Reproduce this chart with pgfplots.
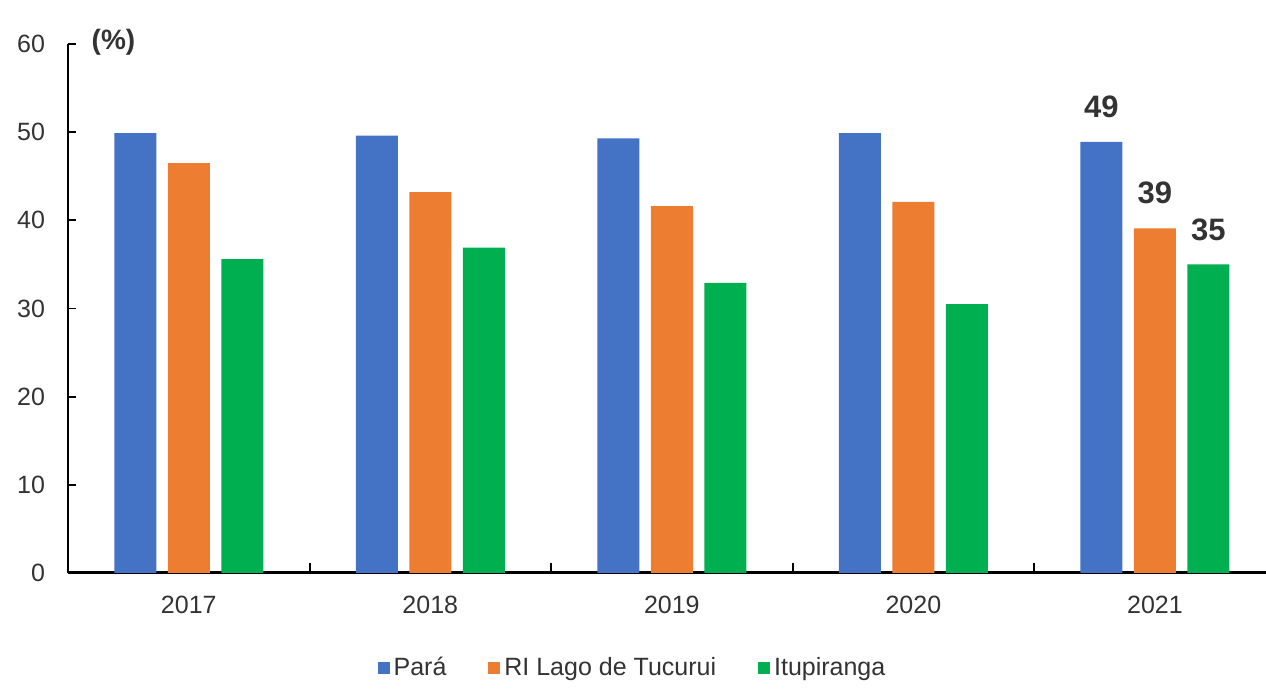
\documentclass[border=0pt]{standalone}
\usepackage{pgfplots}
\pgfplotsset{compat=1.18}
\usepackage{fontspec}
\setmainfont{Liberation Sans}
\definecolor{cblue}{HTML}{4472C4}
\definecolor{corange}{HTML}{ED7D31}
\definecolor{cgreen}{HTML}{00B050}
\definecolor{txt}{HTML}{333333}
\begin{document}
\begin{tikzpicture}
\useasboundingbox (0,0) rectangle (633pt,347.5pt);
\begin{axis}[
  at={(34pt,61pt)}, anchor=south west,
  scale only axis, width=599pt, height=264.5pt,
  xmin=-0.5, xmax=4.46, ymin=0, ymax=60,
  clip=false,
  axis x line*=bottom, axis y line*=left,
  x axis line style={line width=1.5pt},
  y axis line style={line width=0.9pt},
  ybar=5.75pt, bar width=21pt,
  xtick={0,1,2,3,4}, xticklabels={2017,2018,2019,2020,2021},
  xtick style={draw=none},
  extra x ticks={0.5,1.5,2.5,3.5}, extra x tick labels={},
  extra x tick style={tick align=inside, major tick length=5pt,
    xtick style={draw=black, line width=1pt}},
  ytick={10,20,30,40,50,60},
  extra y ticks={0}, extra y tick style={ytick style={draw=none}},
  tick align=inside, major tick length=4pt,
  ytick style={line width=0.9pt, black},
  /pgf/number format/assume math mode=true,
  ticklabel style={font=\fontsize{12.5}{15}\selectfont, text=txt},
  yticklabel style={xshift=-8pt},
  xticklabel style={yshift=-8pt},
  legend style={at={(0.472,-0.18)}, anchor=center, draw=none, legend columns=3,
    font=\fontsize{12.5}{15}\selectfont, text=txt,
    /tikz/every even column/.append style={column sep=19pt}},
  legend image code/.code={\fill[#1] (0pt,-3pt) rectangle (6pt,3pt);},
  nodes near coords, point meta=explicit symbolic,
  every node near coord/.append style={anchor=center, yshift=17.5pt,
    font=\bfseries\fontsize{15.5}{18}\selectfont, text=txt},
]
\addplot[fill=cblue, draw=none] coordinates {(0,49.9)[] (1,49.6)[] (2,49.3)[] (3,49.9)[] (4,48.9)[49]};
\addplot[fill=corange, draw=none] coordinates {(0,46.5)[] (1,43.2)[] (2,41.6)[] (3,42.1)[] (4,39.1)[39]};
\addplot[fill=cgreen, draw=none] coordinates {(0,35.6)[] (1,36.9)[] (2,32.9)[] (3,30.5)[] (4,35.0)[35]};
\legend{Pará, RI Lago de Tucurui, Itupiranga}
\node[font=\bfseries\fontsize{14}{16}\selectfont, text=txt] at (rel axis cs:0.038,1.004) {(\%)};
\end{axis}
\end{tikzpicture}
\end{document}
